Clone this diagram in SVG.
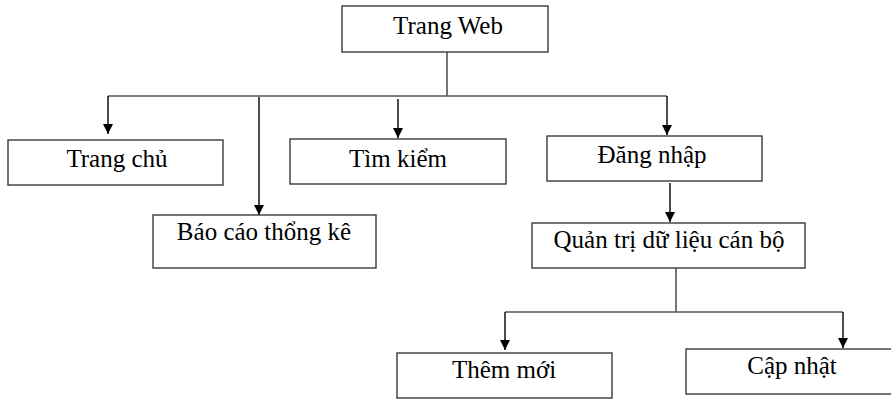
<svg xmlns="http://www.w3.org/2000/svg" width="891" height="400" viewBox="0 0 891 400">
<style>
.box{fill:#fff;stroke:#3a3a3a;stroke-width:1.4}
.ln{fill:none;stroke:#555;stroke-width:1.6}
.ar{fill:none;stroke:#000;stroke-width:1.4}
text{font-family:"Liberation Serif","Times New Roman",serif;font-size:25px;fill:#000;text-anchor:middle}
</style>
<defs>
<marker id="ad" markerUnits="userSpaceOnUse" markerWidth="10" markerHeight="11" refX="10" refY="5" orient="auto" viewBox="0 0 10 10">
<path d="M0,0 L10,5 L0,10 Z" fill="#000"/>
</marker>
</defs>
<rect width="891" height="400" fill="#fff"/>
<g id="connectors">
<path class="ln" d="M447,52 V96 M108,96 H667"/>
<path class="ln" d="M676,268 V312 M505,312 H843"/>
<path class="ar" d="M108,96 V134" marker-end="url(#ad)"/>
<path class="ar" d="M259,97 V215" marker-end="url(#ad)"/>
<path class="ar" d="M398,99 V138" marker-end="url(#ad)"/>
<path class="ar" d="M667,96 V135" marker-end="url(#ad)"/>
<path class="ar" d="M670,183 V222" marker-end="url(#ad)"/>
<path class="ar" d="M505,312 V350" marker-end="url(#ad)"/>
<path class="ar" d="M843,312 V348" marker-end="url(#ad)"/>
</g>
<g id="trang-web"><rect class="box" x="342" y="6" width="206" height="46"/><text x="448" y="34">Trang Web</text></g>
<g id="trang-chu"><rect class="box" x="8" y="140" width="215" height="45"/><text x="117" y="167">Trang chủ</text></g>
<g id="tim-kiem"><rect class="box" x="290" y="139" width="216" height="45"/><text x="398" y="167">Tìm kiểm</text></g>
<g id="dang-nhap"><rect class="box" x="547" y="136" width="215" height="45"/><text x="652" y="163">Đăng nhập</text></g>
<g id="bao-cao"><rect class="box" x="153" y="215" width="223" height="53"/><text x="264" y="240">Báo cáo thổng kê</text></g>
<g id="quan-tri"><rect class="box" x="532" y="223" width="273" height="45"/><text x="669" y="248">Quản trị dữ liệu cán bộ</text></g>
<g id="them-moi"><rect class="box" x="397" y="353" width="215" height="45"/><text x="504" y="378">Thêm mới</text></g>
<g id="cap-nhat"><rect class="box" x="686" y="349" width="215" height="45"/><text x="792" y="374">Cập nhật</text></g>
</svg>
